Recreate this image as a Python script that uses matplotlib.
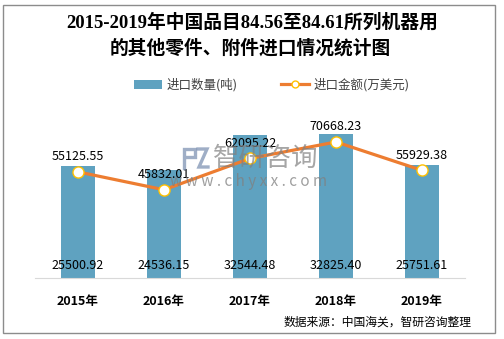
import matplotlib
matplotlib.use("Agg")
import matplotlib.pyplot as plt
from matplotlib.patches import Rectangle, Patch
from matplotlib.lines import Line2D

plt.rcParams['font.family'] = ['Noto Sans CJK SC', 'DejaVu Sans']

years = ['2015年', '2016年', '2017年', '2018年', '2019年']
quantity = [25500.92, 24536.15, 32544.48, 32825.40, 25751.61]   # 进口数量(吨)
amount = [55125.55, 45832.01, 62095.22, 70668.23, 55929.38]     # 进口金额(万美元)

bar_color = '#5fa2c0'
line_color = '#ed7d31'
marker_edge = '#ffc000'

W, H = 504, 339
fig = plt.figure(figsize=(W / 100, H / 100), dpi=100)


def fx(px):
    return px / W


def fy(py):
    return 1 - py / H


# outer frame
fig.patches.append(Rectangle((fx(3), fy(333)), 492 / W, 328 / H,
                             transform=fig.transFigure, fill=False,
                             edgecolor='#8c8c8c', linewidth=1.0))

ax = fig.add_axes([fx(35), fy(278), 430 / W, 154 / H])
x = list(range(len(years)))
ax.bar(x, quantity, width=0.4, color=bar_color, zorder=2)
ax.set_xlim(-0.5, len(years) - 0.5)
ax.set_ylim(0, 35000)
for s in ['top', 'left', 'right']:
    ax.spines[s].set_visible(False)
ax.spines['bottom'].set_color('#d9d9d9')
ax.set_yticks([])
ax.set_xticks(x)
ax.set_xticklabels(years, fontsize=9, fontweight='bold', color='#000000')
ax.tick_params(axis='x', length=0, pad=12)
ax.patch.set_alpha(0)

for xi, v in zip(x, quantity):
    ax.text(xi, 1300, f'{v:.2f}', ha='center', va='bottom', fontsize=9, color='#000000', zorder=5)

ax2 = ax.twinx()
ax2.set_ylim(0, 80000)
ax2.plot(x, amount, color=line_color, linewidth=2.3, zorder=3,
         marker='o', markersize=8, markerfacecolor='white',
         markeredgecolor=marker_edge, markeredgewidth=1.0)
for s in ['top', 'left', 'right', 'bottom']:
    ax2.spines[s].set_visible(False)
ax2.set_yticks([])
for xi, v in zip(x, amount):
    ax2.text(xi, v + 4500, f'{v:.2f}', ha='center', va='bottom', fontsize=9, color='#000000', zorder=5)

# watermark: logo mark, brand name and site address
logo_color = '#7f93b4'
logo_strokes = [
    [(184, 168), (184, 149), (195, 149), (195, 157), (187, 157)],
    [(198, 149), (207, 149), (199, 167), (208, 167)],
]
for stroke in logo_strokes:
    fig.add_artist(Line2D([fx(p[0]) for p in stroke], [fy(p[1]) for p in stroke],
                          transform=fig.transFigure, color=logo_color, alpha=0.75,
                          linewidth=2.4, solid_joinstyle='miter', zorder=6))
fig.text(fx(266), fy(158), '智研咨询', fontsize=19, color='#808080', alpha=0.7,
         ha='center', va='center', zorder=6)
fig.text(fx(249), fy(181), 'w w w . c h y x x . c o m', fontsize=11, color='#808080', alpha=0.75,
         ha='center', va='center', zorder=6)

# legend
handles = [Patch(facecolor=bar_color, edgecolor='none', label='进口数量(吨)'),
           Line2D([0], [0], color=line_color, linewidth=2.3, marker='o', markersize=5,
                  markerfacecolor='white', markeredgecolor=marker_edge, label='进口金额(万美元)')]
fig.legend(handles=handles, loc='center', bbox_to_anchor=(fx(272), fy(85)), ncol=2,
           frameon=False, fontsize=9, labelcolor='#404040', handlelength=2.2,
           columnspacing=3.5, handletextpad=0.4)

# title
title_font = ['Liberation Serif', 'Noto Sans CJK SC']
fig.text(fx(252), fy(22), '2015-2019年中国品目84.56至84.61所列机器用',
         fontsize=13.5, fontweight='bold', family=title_font, ha='center', va='center')
fig.text(fx(250), fy(48), '的其他零件、附件进口情况统计图',
         fontsize=13.5, fontweight='bold', family=title_font, ha='center', va='center')

# source note
fig.text(fx(472), fy(322), '数据来源：中国海关，智研咨询整理', fontsize=8.5,
         ha='right', va='center', color='#000000')

fig.savefig('out.png', dpi=100)
